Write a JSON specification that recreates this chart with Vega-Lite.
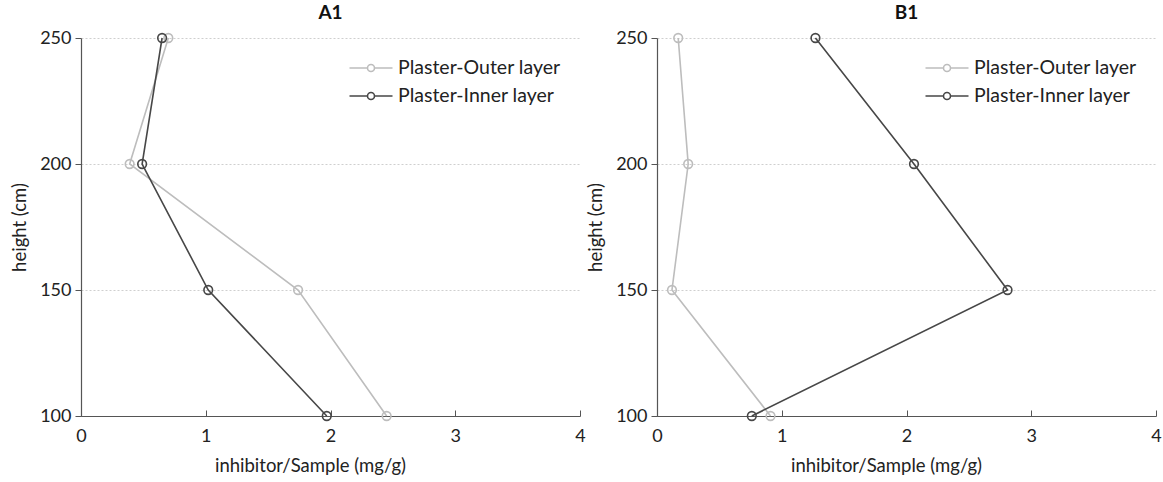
{
  "$schema": "https://vega.github.io/schema/vega-lite/v6.json",
  "padding": {"left": 10, "top": 4, "right": 5, "bottom": 5},
  "spacing": 0,
  "background": "white",
  "config": {
    "font": "Lato",
    "view": {"stroke": null},
    "title": {"fontSize": 19, "fontWeight": "bold", "color": "#111", "offset": 6},
    "axis": {"labelFontSize": 18, "titleFontSize": 18.5, "titleFontWeight": "normal", "labelColor": "#222", "titleColor": "#222", "domainColor": "#555", "tickColor": "#555", "domainWidth": 1.2, "labelFlush": false}
  },
  "datasets": {
    "A1": [
      {"h": 250, "v": 0.70, "layer": "Plaster-Outer layer"},
      {"h": 200, "v": 0.39, "layer": "Plaster-Outer layer"},
      {"h": 150, "v": 1.74, "layer": "Plaster-Outer layer"},
      {"h": 100, "v": 2.45, "layer": "Plaster-Outer layer"},
      {"h": 250, "v": 0.65, "layer": "Plaster-Inner layer"},
      {"h": 200, "v": 0.49, "layer": "Plaster-Inner layer"},
      {"h": 150, "v": 1.02, "layer": "Plaster-Inner layer"},
      {"h": 100, "v": 1.97, "layer": "Plaster-Inner layer"}
    ],
    "B1": [
      {"h": 250, "v": 0.17, "layer": "Plaster-Outer layer"},
      {"h": 200, "v": 0.25, "layer": "Plaster-Outer layer"},
      {"h": 150, "v": 0.12, "layer": "Plaster-Outer layer"},
      {"h": 100, "v": 0.91, "layer": "Plaster-Outer layer"},
      {"h": 250, "v": 1.27, "layer": "Plaster-Inner layer"},
      {"h": 200, "v": 2.06, "layer": "Plaster-Inner layer"},
      {"h": 150, "v": 2.81, "layer": "Plaster-Inner layer"},
      {"h": 100, "v": 0.76, "layer": "Plaster-Inner layer"}
    ]
  },
  "resolve": {"scale": {"color": "independent"}, "legend": {"color": "independent"}},
  "hconcat": [
    {
      "title": "A1",
      "width": 499,
      "height": 378,
      "data": {"name": "A1"},
      "mark": {"type": "line", "strokeWidth": 1.6, "point": {"filled": false, "size": 75, "strokeWidth": 1.6}},
      "encoding": {
        "x": {"field": "v", "type": "quantitative", "scale": {"domain": [0, 4], "nice": false}, "axis": {"title": "inhibitor/Sample (mg/g)", "values": [0, 1, 2, 3, 4], "grid": false, "tickSize": -6, "labelPadding": 17, "titlePadding": 11, "titleX": 229, "titleAlign": "center"}},
        "y": {"field": "h", "type": "quantitative", "scale": {"domain": [100, 250], "nice": false, "zero": false}, "axis": {"title": "height (cm)", "values": [100, 150, 200, 250], "grid": true, "gridColor": "#cfcfcf", "gridDash": [2, 2], "tickSize": 6, "labelPadding": 4, "titlePadding": 10}},
        "color": {"field": "layer", "type": "nominal", "sort": ["Plaster-Outer layer", "Plaster-Inner layer"], "scale": {"domain": ["Plaster-Outer layer", "Plaster-Inner layer"], "range": ["#bdbdbd", "#474747"]},
          "legend": {"title": null, "orient": "none", "legendX": 279, "legendY": 19, "labelFontSize": 19.5, "labelLimit": 400, "labelColor": "#222", "symbolType": "M-2.15,0L-0.35,0M0.35,0L2.15,0M0.35,0A0.35,0.35 0 1,1 -0.35,0A0.35,0.35 0 1,1 0.35,0", "symbolSize": 400, "symbolStrokeWidth": 1.6, "symbolFillColor": "transparent", "rowPadding": 7, "labelOffset": 16}},
        "order": {"field": "h", "type": "quantitative"}
      }
    },
    {
      "title": "B1",
      "width": 499,
      "height": 378,
      "data": {"name": "B1"},
      "mark": {"type": "line", "strokeWidth": 1.6, "point": {"filled": false, "size": 75, "strokeWidth": 1.6}},
      "encoding": {
        "x": {"field": "v", "type": "quantitative", "scale": {"domain": [0, 4], "nice": false}, "axis": {"title": "inhibitor/Sample (mg/g)", "values": [0, 1, 2, 3, 4], "grid": false, "tickSize": -6, "labelPadding": 17, "titlePadding": 11, "titleX": 229, "titleAlign": "center"}},
        "y": {"field": "h", "type": "quantitative", "scale": {"domain": [100, 250], "nice": false, "zero": false}, "axis": {"title": "height (cm)", "values": [100, 150, 200, 250], "grid": true, "gridColor": "#cfcfcf", "gridDash": [2, 2], "tickSize": 6, "labelPadding": 4, "titlePadding": 10}},
        "color": {"field": "layer", "type": "nominal", "sort": ["Plaster-Outer layer", "Plaster-Inner layer"], "scale": {"domain": ["Plaster-Outer layer", "Plaster-Inner layer"], "range": ["#bdbdbd", "#474747"]},
          "legend": {"title": null, "orient": "none", "legendX": 279, "legendY": 19, "labelFontSize": 19.5, "labelLimit": 400, "labelColor": "#222", "symbolType": "M-2.15,0L-0.35,0M0.35,0L2.15,0M0.35,0A0.35,0.35 0 1,1 -0.35,0A0.35,0.35 0 1,1 0.35,0", "symbolSize": 400, "symbolStrokeWidth": 1.6, "symbolFillColor": "transparent", "rowPadding": 7, "labelOffset": 16}},
        "order": {"field": "h", "type": "quantitative"}
      }
    }
  ]
}
